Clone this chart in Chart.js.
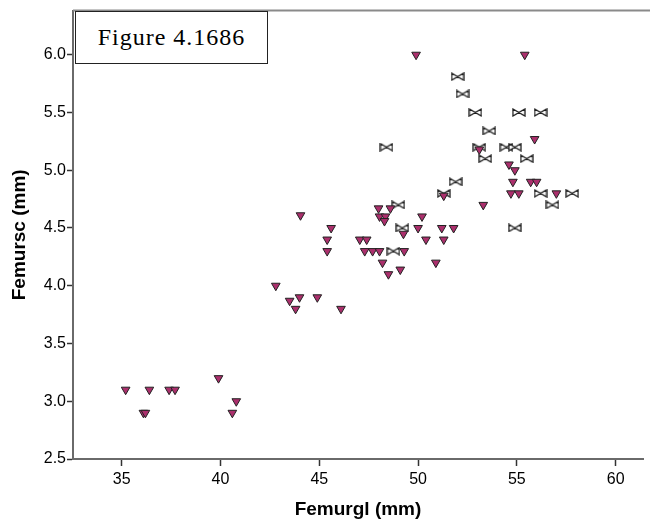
<!DOCTYPE html>
<html>
<head>
<meta charset="utf-8">
<script src="https://cdn.jsdelivr.net/npm/chart.js@4/dist/chart.umd.min.js"></script>
<style>
  body { margin: 0; background: #fff; }
  #wrap { position: relative; width: 650px; height: 528px; }
  #figLabel {
    position: absolute; left: 75px; top: 11px; width: 191px; height: 51px;
    border: 1px solid #222; background: #fff;
    display: flex; align-items: center; justify-content: center;
    font-family: "Liberation Serif", "DejaVu Serif", serif; font-size: 24px;
    letter-spacing: 1px; color: #000;
  }
</style>
</head>
<body>
<div id="wrap">
  <canvas id="chart" width="650" height="528"></canvas>
  <div id="figLabel">Figure 4.1686</div>
</div>
<script>
// group drawn with down-pointing triangles
const triangleFemurgl = [35.2, 36.1, 36.2, 36.4, 37.4, 37.7, 39.9, 40.6, 40.8, 42.8,
  43.5, 43.8, 44.0, 44.9, 46.1, 44.05, 45.6, 45.4, 45.4, 47.05,
  47.4, 47.3, 47.7, 48.05, 49.3, 48.2, 48.5, 49.1, 50.9, 50.4,
  51.3, 50.0, 51.2, 51.8, 49.26, 50.2, 48.0, 48.6, 48.05, 48.35,
  48.3, 49.9, 55.4, 55.9, 53.1, 54.6, 54.9, 54.8, 55.7, 56.0,
  51.3, 54.7, 55.1, 57.0, 53.3];
const triangleFemursc = [3.1, 2.9, 2.9, 3.1, 3.1, 3.1, 3.2, 2.9, 3.0, 4.0,
  3.87, 3.8, 3.9, 3.9, 3.8, 4.61, 4.5, 4.4, 4.3, 4.4,
  4.4, 4.3, 4.3, 4.3, 4.3, 4.2, 4.1, 4.14, 4.2, 4.4,
  4.4, 4.5, 4.5, 4.5, 4.45, 4.6, 4.67, 4.67, 4.6, 4.6,
  4.56, 6.0, 6.0, 5.27, 5.18, 5.05, 5.0, 4.9, 4.9, 4.9,
  4.78, 4.8, 4.8, 4.8, 4.7];

// group drawn with bowtie markers
const bowtieFemurgl = [52.0, 52.25, 52.9, 55.1, 56.2, 53.6, 48.4, 53.1, 54.47, 54.9,
  53.4, 55.5, 51.9, 51.3, 56.2, 57.8, 56.8, 49.0, 54.9, 49.2, 48.75];
const bowtieFemursc = [5.81, 5.66, 5.5, 5.5, 5.5, 5.34, 5.2, 5.2, 5.2, 5.2,
  5.1, 5.1, 4.9, 4.8, 4.8, 4.8, 4.7, 4.7, 4.5, 4.5, 4.3];

const xTickValues = [35, 40, 45, 50, 55, 60];
const yTickValues = [2.5, 3.0, 3.5, 4.0, 4.5, 5.0, 5.5, 6.0];

function toPoints(xs, ys) {
  return xs.map((x, i) => ({ x: x, y: ys[i] }));
}

// bowtie marker image
const bowtie = document.createElement('canvas');
bowtie.width = 14;
bowtie.height = 9;
(function () {
  const c = bowtie.getContext('2d');
  c.fillStyle = '#ffffff';
  c.strokeStyle = '#1e1e1e';
  c.lineWidth = 1.3;
  c.beginPath();
  c.moveTo(1, 1); c.lineTo(1, 8); c.lineTo(7, 4.5); c.closePath();
  c.moveTo(13, 1); c.lineTo(13, 8); c.lineTo(7, 4.5); c.closePath();
  c.fill();
  c.stroke();
})();

// gray frame line along the top of the plot
const topLine = {
  id: 'topLine',
  afterDraw(chart) {
    const { ctx, chartArea } = chart;
    ctx.save();
    ctx.strokeStyle = '#8a8a8a';
    ctx.lineWidth = 2;
    ctx.beginPath();
    ctx.moveTo(chartArea.left, chartArea.top);
    ctx.lineTo(chart.width, chartArea.top);
    ctx.stroke();
    ctx.restore();
  }
};

Chart.defaults.font.family = '"Liberation Sans", Arial, sans-serif';
Chart.defaults.color = '#000';

new Chart(document.getElementById('chart'), {
  type: 'scatter',
  data: {
    datasets: [
      {
        label: 'triangle',
        data: toPoints(triangleFemurgl, triangleFemursc),
        pointStyle: 'triangle',
        rotation: 180,
        radius: 5,
        backgroundColor: '#ab2f6c',
        borderColor: '#222',
        borderWidth: 1
      },
      {
        label: 'bowtie',
        data: toPoints(bowtieFemurgl, bowtieFemursc),
        pointStyle: bowtie,
        radius: 6
      }
    ]
  },
  options: {
    responsive: false,
    animation: false,
    events: [],
    layout: { padding: { top: 9, right: 0, left: 0, bottom: 0 } },
    plugins: { legend: { display: false }, tooltip: { enabled: false } },
    scales: {
      x: {
        type: 'linear',
        min: 32.535,
        max: 61.385,
        afterFit(scale) { scale.height = 69; },
        afterBuildTicks(scale) { scale.ticks = xTickValues.map(v => ({ value: v })); },
        ticks: { font: { size: 16 }, padding: 4, callback: v => String(v) },
        grid: { drawOnChartArea: false, drawTicks: true, tickLength: 7, tickColor: '#333', tickWidth: 1.5 },
        border: { display: true, color: '#6a6a6a', width: 2 },
        title: { display: true, text: 'Femurgl (mm)', font: { size: 19, weight: 'bold' }, padding: { top: 0, bottom: 7 } }
      },
      y: {
        type: 'linear',
        min: 2.5,
        max: 6.382,
        afterFit(scale) { scale.width = 73; },
        afterBuildTicks(scale) { scale.ticks = yTickValues.map(v => ({ value: v })); },
        ticks: { font: { size: 16 }, padding: 1, callback: v => Number(v).toFixed(1) },
        grid: { drawOnChartArea: false, drawTicks: true, tickLength: 6, tickColor: '#333', tickWidth: 1.5 },
        border: { display: true, color: '#6a6a6a', width: 2 },
        title: { display: true, text: 'Femursc (mm)', font: { size: 19, weight: 'bold' }, padding: { top: 8, bottom: 0 } }
      }
    }
  },
  plugins: [topLine]
});
</script>
</body>
</html>
